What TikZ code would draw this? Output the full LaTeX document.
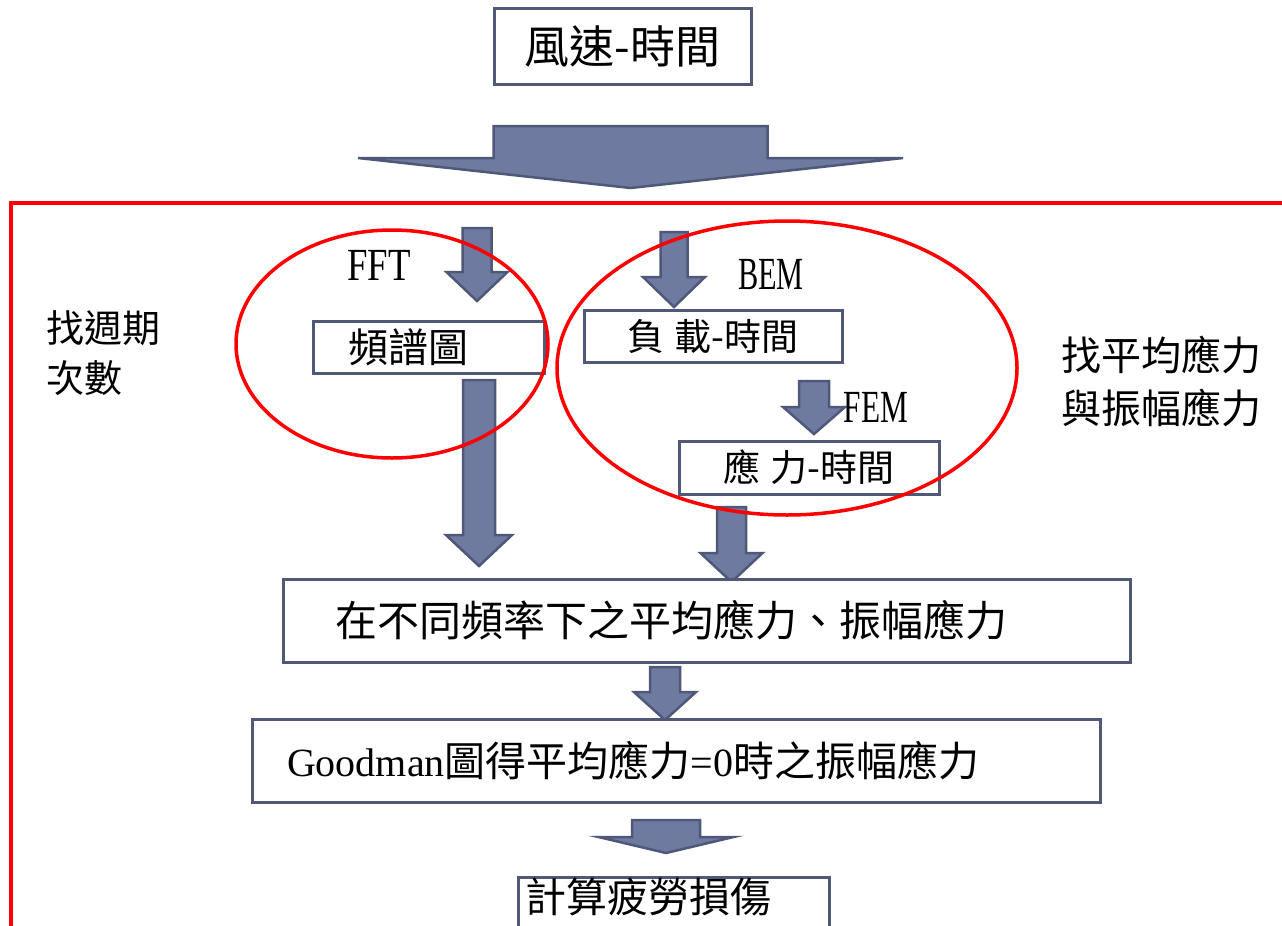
\documentclass[tikz,border=0pt]{standalone}
\usepackage{fontspec}
\usepackage{graphicx}
\setmainfont{Noto Sans CJK TC}
\newfontfamily\lat{Liberation Serif}
\newcommand\setfs[1]{\fontsize{#1}{#1}\selectfont}
\definecolor{boxc}{HTML}{505A78}
\definecolor{arrf}{HTML}{6E7AA0}
\definecolor{arrd}{HTML}{4F5878}
\definecolor{ringc}{HTML}{FF0000}
\tikzset{
  boxn/.style={draw=boxc, line width=3pt, fill=white, inner sep=0pt},
  arr/.style={fill=arrf, draw=arrd, line width=2.5pt, line join=miter},
  redring/.style={draw=ringc, line width=3.5pt},
  latlab/.style={inner sep=0pt, font=\lat\setfs{46}},
}
\newcommand\blkarrow[6]{%
  \filldraw[arr] (#1-#2,#3) -- (#1+#2,#3) -- (#1+#2,#4) -- (#1+#5,#4) -- (#1,#6) -- (#1-#5,#4) -- (#1-#2,#4) -- cycle;}
\begin{document}
\begin{tikzpicture}[x=1pt,y=-1pt]
\useasboundingbox (0,0) rectangle (1282,926);
\clip (0,0) rectangle (1282,926);
\fill[white] (0,0) rectangle (1282,926);
% red frame
\draw[redring, line width=4pt] (11,203) rectangle (1320,960);
% top box
\node[boxn, minimum width=257pt, minimum height=76pt, font=\setfs{45}] (wind) at (622.5,46) {風速-時間};
% big arrow
\blkarrow{630.5}{137}{126}{158}{272.5}{188}
% FFT
\node[latlab] (fft) at (379,265) {\scalebox{0.8}[1]{FFT}};
\blkarrow{477}{14.5}{228}{272}{30.5}{301}
\node[boxn, minimum height=52pt, text width=161pt, inner xsep=35pt, align=left, font=\setfs{40}] (spec) at (428.5,347) {頻譜圖};
\blkarrow{479}{16}{380}{535}{33}{566}
% BEM / FEM
\blkarrow{674}{13.5}{232}{277}{31}{307}
\node[latlab] (bem) at (771,275) {\scalebox{0.66}[1]{BEM}};
\node[boxn, minimum width=258pt, minimum height=52pt, font=\setfs{37}] (load) at (713,336) {負\hspace{0.25em}載-時間};
\blkarrow{814}{15}{381}{407}{31}{434}
\node[latlab] (fem) at (876,407) {\scalebox{0.68}[1]{FEM}};
\node[boxn, minimum width=260pt, minimum height=53pt, font=\setfs{37}] (stress) at (809,467.5) {應\hspace{0.25em}力-時間};
\blkarrow{731.5}{14.5}{507}{553}{31}{582}
% lower boxes
\node[boxn, minimum height=83pt, text width=743pt, inner xsep=52pt, align=left, font=\setfs{42}] (mean) at (706.5,620.5) {在不同頻率下之平均應力、振幅應力};
\blkarrow{665}{15}{667}{692}{31}{720}
\node[boxn, minimum height=83pt, text width=778pt, inner xsep=35pt, align=left, font=\setfs{41}] (good) at (676,760.5) {{\lat\setfs{40}Goodman}圖得平均應力{\lat\setfs{40}=0}時之振幅應力};
\blkarrow{666}{34}{820}{837}{67.5}{853}
\node[boxn, minimum width=311pt, minimum height=90pt, anchor=north west] (dmg) at (517,876) {};
\node[anchor=west, inner sep=0pt, font=\setfs{41}] (dmgt) at (525,897) {計算疲勞損傷};
% side labels
\node[anchor=west, align=left, inner sep=0pt, font=\fontsize{38}{50}\selectfont] (lefttxt) at (46,353) {找週期\\次數};
\node[anchor=west, align=left, inner sep=0pt, font=\fontsize{40}{53}\selectfont] (righttxt) at (1061,381) {找平均應力\\與振幅應力};
% red ellipses
\draw[redring] (392,344) ellipse [x radius=156pt, y radius=114pt];
\draw[redring] (787,368) ellipse [x radius=230pt, y radius=147pt];
\end{tikzpicture}
\end{document}
